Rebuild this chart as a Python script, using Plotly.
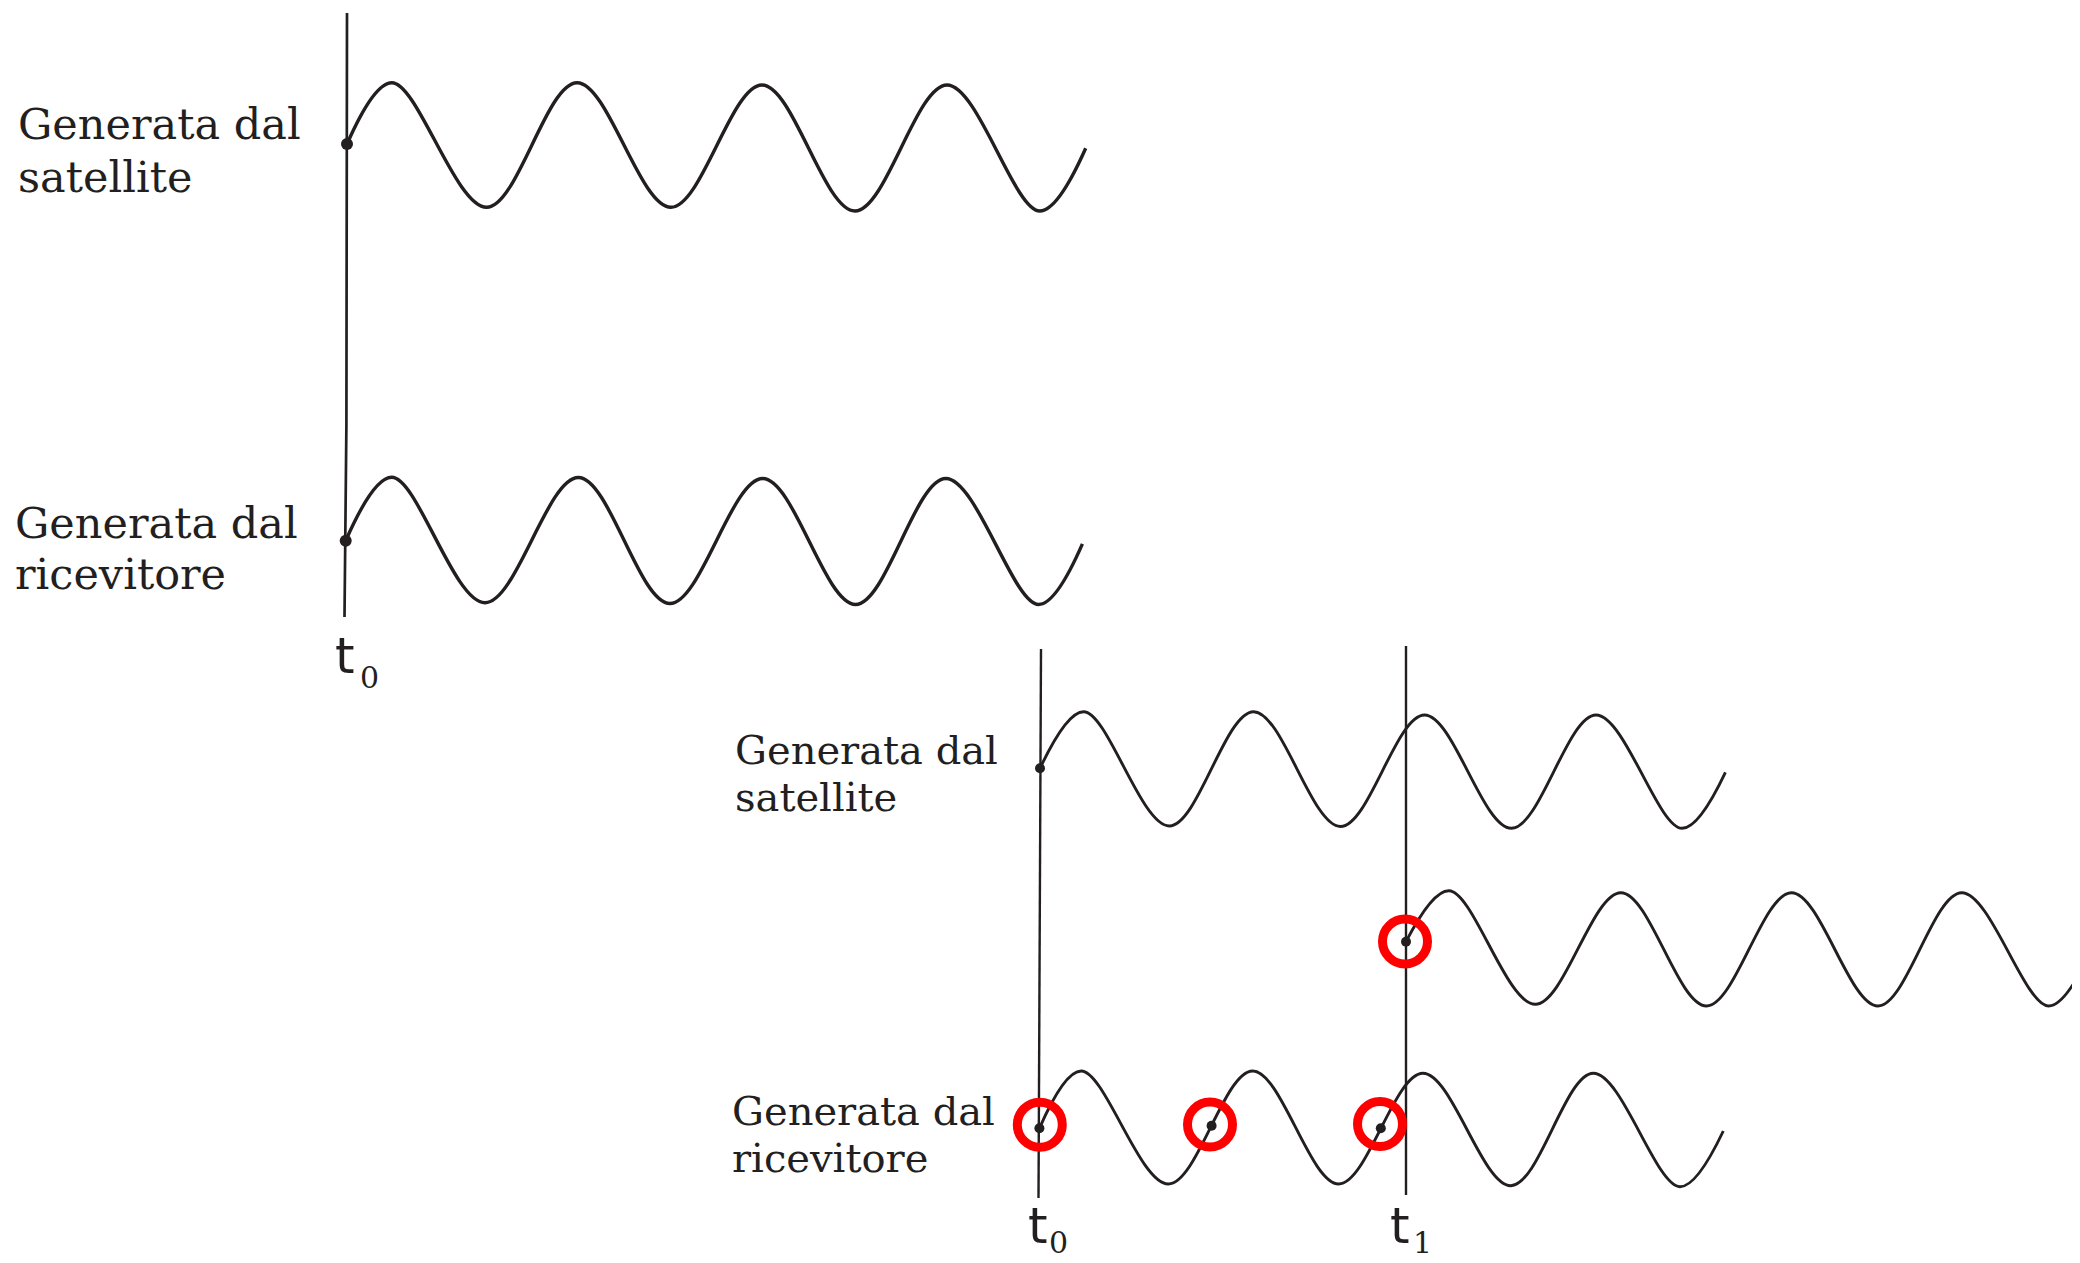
import plotly.graph_objects as go

W, H = 2080, 1263
PAGE_MARGIN = 8  # default browser body margin around the plot div
INK = "#231f20"
RED = "#ff0000"

# ---- data (pixel-space values) ----
# top panel: satellite-generated wave
top_sat_x = [347.0, 391.8, 486.7, 577.0, 670.9, 762.0, 855.0, 947.0, 1039.8, 1085.7]
top_sat_y = [144.0, 82.7, 207.3, 82.7, 207.3, 85.0, 211.0, 85.0, 211.0, 148.3]
# top panel: receiver-generated wave
top_rec_x = [345.7, 391.7, 485.0, 578.4, 669.9, 762.7, 855.6, 945.8, 1038.6, 1082.4]
top_rec_y = [540.7, 477.3, 602.7, 477.5, 603.5, 478.5, 604.5, 478.5, 604.5, 543.9]
# top panel t0 reference line
top_t0_x = [347.0, 346.4, 344.5]
top_t0_y = [13.0, 425.0, 617.0]

# bottom panel: satellite-generated wave
bot_sat_x = [1040.0, 1083.7, 1169.4, 1253.6, 1340.5, 1424.5, 1511.4, 1596.0, 1682.0, 1725.4]
bot_sat_y = [768.3, 711.7, 826.0, 711.7, 826.5, 715.0, 828.3, 715.0, 828.3, 772.3]
# bottom panel: delayed wave starting at t1
bot_mid_x = [1406.0, 1449.0, 1535.3, 1620.9, 1706.5, 1791.5, 1878.0, 1961.7, 2048.7, 2092.0]
bot_mid_y = [941.7, 890.7, 1004.3, 892.7, 1006.0, 892.7, 1006.0, 892.7, 1006.0, 949.0]
# bottom panel: receiver-generated wave
bot_rec_x = [1039.4, 1081.1, 1168.4, 1252.6, 1338.7, 1422.9, 1510.9, 1593.3, 1680.0, 1723.3]
bot_rec_y = [1128.3, 1071.0, 1184.0, 1071.0, 1184.0, 1073.3, 1185.7, 1073.3, 1186.7, 1131.0]
# bottom panel reference lines
bot_t0_x = [1041.0, 1038.5]
bot_t0_y = [649.0, 1198.0]
bot_t1_x = [1406.0, 1406.0]
bot_t1_y = [646.0, 1195.0]

# phase marker dots
dot_big_x = [347.0, 345.7]
dot_big_y = [144.0, 540.7]
dot_small_x = [1040.0, 1406.0, 1039.4, 1211.6, 1380.8]
dot_small_y = [768.3, 941.7, 1128.3, 1125.7, 1128.3]
# red highlight rings
ring_x = [1039.8, 1210.0, 1380.0, 1405.0]
ring_y = [1124.7, 1124.5, 1124.0, 941.5]
ring_r = 22.5

# text labels: (text, left x, baseline y, font size)
label_text = ["Generata dal", "satellite", "Generata dal", "ricevitore",
              "Generata dal", "satellite", "Generata dal", "ricevitore"]
label_x = [16, 16, 13, 13, 733, 733, 730, 730]
label_base = [139.3, 191.7, 538.0, 589.0, 764.0, 810.7, 1125.0, 1172.0]
label_size = [43, 43, 43, 43, 40, 40, 40, 40]

t_text = ["t", "t", "t"]
t_x = [333, 1026, 1388]
t_base = [673, 1243, 1243]
sub_text = ["0", "0", "1"]
sub_x = [358, 1047, 1411]
sub_base = [688, 1253, 1253]

fig = go.Figure()

def line(x, y, w, shape="linear"):
    fig.add_trace(go.Scatter(x=x, y=y, mode="lines", hoverinfo="skip",
                             line=dict(color=INK, width=w, shape=shape, smoothing=1.0)))

line(top_t0_x, top_t0_y, 2.7)
line(bot_t0_x, bot_t0_y, 2.4)
line(bot_t1_x, bot_t1_y, 2.4)
line(top_sat_x, top_sat_y, 3.4, "spline")
line(top_rec_x, top_rec_y, 3.4, "spline")
line(bot_sat_x, bot_sat_y, 2.9, "spline")
line(bot_mid_x, bot_mid_y, 2.9, "spline")
line(bot_rec_x, bot_rec_y, 2.9, "spline")

fig.add_trace(go.Scatter(x=dot_big_x, y=dot_big_y, mode="markers", hoverinfo="skip",
                         marker=dict(color=INK, size=12, line=dict(width=0))))
fig.add_trace(go.Scatter(x=dot_small_x, y=dot_small_y, mode="markers", hoverinfo="skip",
                         marker=dict(color=INK, size=10, line=dict(width=0))))

for cx, cy in zip(ring_x, ring_y):
    fig.add_shape(type="circle", xref="x", yref="y",
                  x0=cx - ring_r, x1=cx + ring_r, y0=cy - ring_r, y1=cy + ring_r,
                  line=dict(color=RED, width=9), fillcolor="rgba(0,0,0,0)")

for txt, x, b, s in zip(label_text, label_x, label_base, label_size):
    fig.add_annotation(x=x, y=b - 0.346 * s, text=txt, showarrow=False,
                       xanchor="left", yanchor="middle", xref="x", yref="y",
                       font=dict(family="DejaVu Serif", size=s, color=INK))

for txt, x, b in zip(t_text, t_x, t_base):
    fig.add_annotation(x=x, y=b - 0.346 * 50, text=txt, showarrow=False,
                       xanchor="left", yanchor="middle", xref="x", yref="y",
                       font=dict(family="DejaVu Sans", size=50, color=INK))
for txt, x, b in zip(sub_text, sub_x, sub_base):
    fig.add_annotation(x=x, y=b - 0.346 * 30, text=txt, showarrow=False,
                       xanchor="left", yanchor="middle", xref="x", yref="y",
                       font=dict(family="DejaVu Serif", size=30, color=INK))

# plot div sits PAGE_MARGIN px in from the page corner; shift ranges so that
# data coordinates coincide with page pixels of the 2080x1263 window
fig.update_layout(width=W - PAGE_MARGIN, height=H - PAGE_MARGIN,
                  margin=dict(l=0, r=0, t=0, b=0),
                  paper_bgcolor="white", plot_bgcolor="white", showlegend=False)
fig.update_xaxes(range=[PAGE_MARGIN, W], visible=False, fixedrange=True)
fig.update_yaxes(range=[H, PAGE_MARGIN], visible=False, fixedrange=True)

fig.write_html("out.html")
